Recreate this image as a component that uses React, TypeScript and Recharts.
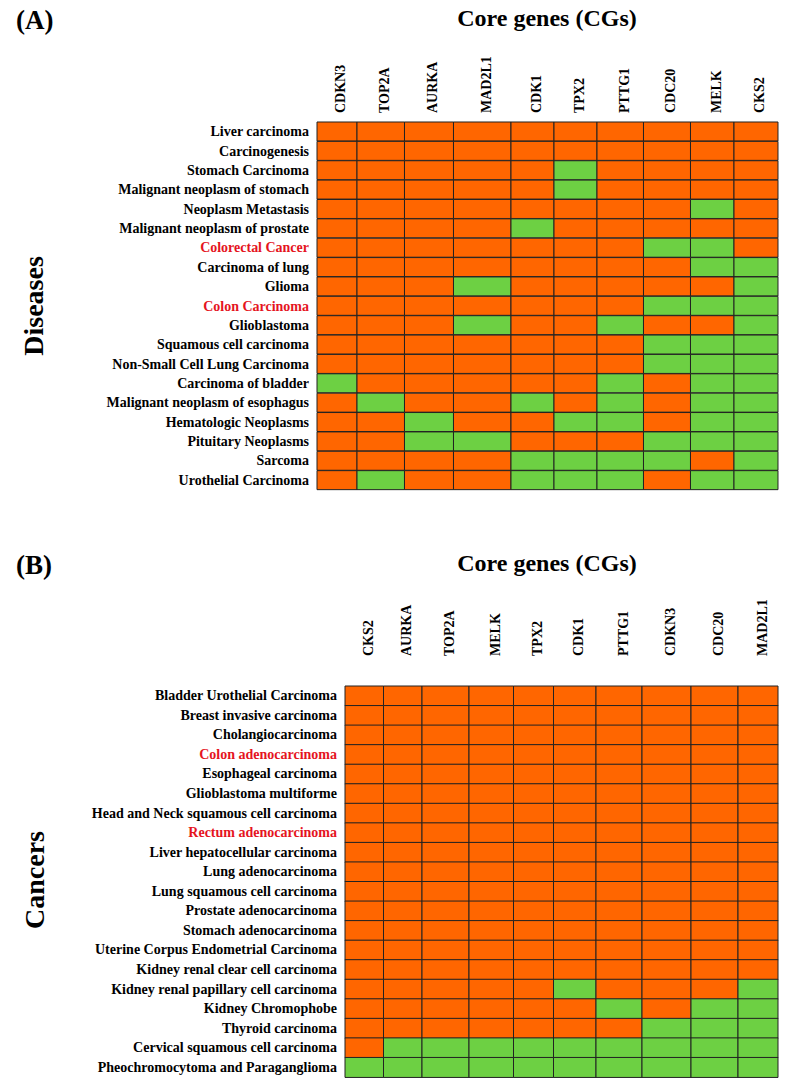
import React from "react";
import { BarChart, Bar, Cell, XAxis, YAxis } from "recharts";

// panel A: diseases x core genes (1 = green cell, 0 = orange cell)
const genesA = ["CDKN3", "TOP2A", "AURKA", "MAD2L1", "CDK1", "TPX2", "PTTG1", "CDC20", "MELK", "CKS2"];
const diseases = [
  "Liver carcinoma",
  "Carcinogenesis",
  "Stomach Carcinoma",
  "Malignant neoplasm of stomach",
  "Neoplasm Metastasis",
  "Malignant neoplasm of prostate",
  "Colorectal Cancer",
  "Carcinoma of lung",
  "Glioma",
  "Colon Carcinoma",
  "Glioblastoma",
  "Squamous cell carcinoma",
  "Non-Small Cell Lung Carcinoma",
  "Carcinoma of bladder",
  "Malignant neoplasm of esophagus",
  "Hematologic Neoplasms",
  "Pituitary Neoplasms",
  "Sarcoma",
  "Urothelial Carcinoma",
];
const statusA = [
  [0, 0, 0, 0, 0, 0, 0, 0, 0, 0],
  [0, 0, 0, 0, 0, 0, 0, 0, 0, 0],
  [0, 0, 0, 0, 0, 1, 0, 0, 0, 0],
  [0, 0, 0, 0, 0, 1, 0, 0, 0, 0],
  [0, 0, 0, 0, 0, 0, 0, 0, 1, 0],
  [0, 0, 0, 0, 1, 0, 0, 0, 0, 0],
  [0, 0, 0, 0, 0, 0, 0, 1, 1, 0],
  [0, 0, 0, 0, 0, 0, 0, 0, 1, 1],
  [0, 0, 0, 1, 0, 0, 0, 0, 0, 1],
  [0, 0, 0, 0, 0, 0, 0, 1, 1, 1],
  [0, 0, 0, 1, 0, 0, 1, 0, 0, 1],
  [0, 0, 0, 0, 0, 0, 0, 1, 1, 1],
  [0, 0, 0, 0, 0, 0, 0, 1, 1, 1],
  [1, 0, 0, 0, 0, 0, 1, 0, 1, 1],
  [0, 1, 0, 0, 1, 0, 1, 0, 1, 1],
  [0, 0, 1, 0, 0, 1, 1, 0, 1, 1],
  [0, 0, 1, 1, 0, 0, 0, 1, 1, 1],
  [0, 0, 0, 0, 1, 1, 1, 1, 0, 1],
  [0, 1, 0, 0, 1, 1, 1, 0, 1, 1],
];
const highlightA = ["Colorectal Cancer", "Colon Carcinoma"];

// panel B: TCGA cancers x core genes
const genesB = ["CKS2", "AURKA", "TOP2A", "MELK", "TPX2", "CDK1", "PTTG1", "CDKN3", "CDC20", "MAD2L1"];
const cancers = [
  "Bladder Urothelial Carcinoma",
  "Breast invasive carcinoma",
  "Cholangiocarcinoma",
  "Colon adenocarcinoma",
  "Esophageal carcinoma",
  "Glioblastoma multiforme",
  "Head and Neck squamous cell carcinoma",
  "Rectum adenocarcinoma",
  "Liver hepatocellular carcinoma",
  "Lung adenocarcinoma",
  "Lung squamous cell carcinoma",
  "Prostate adenocarcinoma",
  "Stomach adenocarcinoma",
  "Uterine Corpus Endometrial Carcinoma",
  "Kidney renal clear cell carcinoma",
  "Kidney renal papillary cell carcinoma",
  "Kidney Chromophobe",
  "Thyroid carcinoma",
  "Cervical squamous cell carcinoma",
  "Pheochromocytoma and Paraganglioma",
];
const statusB = [
  [0, 0, 0, 0, 0, 0, 0, 0, 0, 0],
  [0, 0, 0, 0, 0, 0, 0, 0, 0, 0],
  [0, 0, 0, 0, 0, 0, 0, 0, 0, 0],
  [0, 0, 0, 0, 0, 0, 0, 0, 0, 0],
  [0, 0, 0, 0, 0, 0, 0, 0, 0, 0],
  [0, 0, 0, 0, 0, 0, 0, 0, 0, 0],
  [0, 0, 0, 0, 0, 0, 0, 0, 0, 0],
  [0, 0, 0, 0, 0, 0, 0, 0, 0, 0],
  [0, 0, 0, 0, 0, 0, 0, 0, 0, 0],
  [0, 0, 0, 0, 0, 0, 0, 0, 0, 0],
  [0, 0, 0, 0, 0, 0, 0, 0, 0, 0],
  [0, 0, 0, 0, 0, 0, 0, 0, 0, 0],
  [0, 0, 0, 0, 0, 0, 0, 0, 0, 0],
  [0, 0, 0, 0, 0, 0, 0, 0, 0, 0],
  [0, 0, 0, 0, 0, 0, 0, 0, 0, 0],
  [0, 0, 0, 0, 0, 1, 0, 0, 0, 1],
  [0, 0, 0, 0, 0, 0, 1, 0, 1, 1],
  [0, 0, 0, 0, 0, 0, 0, 1, 1, 1],
  [0, 1, 1, 1, 1, 1, 1, 1, 1, 1],
  [1, 1, 1, 1, 1, 1, 1, 1, 1, 1],
];
const highlightB = ["Colon adenocarcinoma", "Rectum adenocarcinoma"];

// column widths (px) - the original figure has uneven columns
const colWidthsA = [40, 47.5, 49, 57.5, 43, 43, 46.5, 47, 43.5, 44];
const colWidthsB = [38.5, 38.5, 47, 44.5, 40, 42.5, 46, 49, 47, 40];

const ORANGE = "#ff6600";
const GREEN = "#6dd043";
const RED = "#e5141e";
const FONT = '"Liberation Serif", "Times New Roman", serif';

interface PanelProps {
  genes: string[];
  rows: string[];
  status: number[][];
  highlight: string[];
  widths: number[];
  left: number;
  top: number;
  headerBottom: number;
  rowHeight: number;
}

function HeatPanel({ genes, rows, status, highlight, widths, left, top, headerBottom, rowHeight }: PanelProps) {
  const total = widths.reduce((a, b) => a + b, 0);
  const centers: number[] = [];
  let acc = 0;
  widths.forEach((w) => {
    centers.push(acc + w / 2);
    acc += w;
  });

  const data = rows.map((name) => {
    const row: Record<string, number | string> = { name };
    genes.forEach((g, j) => (row[g] = widths[j]));
    return row;
  });

  const yAxisW = 300;
  const topAxisH = 100;
  const marginTop = top - topAxisH;
  const plotH = rowHeight * rows.length;
  const height = top + plotH + 10;

  const GeneTick = (props: any) => {
    const { x, index } = props;
    const tx = x + 4;
    return (
      <text
        x={tx}
        y={headerBottom}
        transform={`rotate(-90, ${tx}, ${headerBottom})`}
        textAnchor="start"
        dominantBaseline="central"
        fontFamily={FONT}
        fontWeight="bold"
        fontSize={14}
        fill="#000"
      >
        {genes[index]}
      </text>
    );
  };

  const RowTick = (props: any) => {
    const { x, y, payload } = props;
    const red = highlight.includes(payload.value);
    return (
      <text
        x={x}
        y={y}
        textAnchor="end"
        dominantBaseline="central"
        fontFamily={FONT}
        fontWeight="bold"
        fontSize={14}
        fill={red ? RED : "#000"}
      >
        {payload.value}
      </text>
    );
  };

  return (
    <BarChart
      width={794}
      height={height}
      data={data}
      layout="vertical"
      barCategoryGap={0}
      margin={{ top: marginTop, right: 794 - (left + total), bottom: 10, left: left - yAxisW }}
    >
      <XAxis
        type="number"
        orientation="top"
        domain={[0, total]}
        ticks={centers}
        interval={0}
        height={topAxisH}
        axisLine={false}
        tickLine={false}
        tick={<GeneTick />}
      />
      <YAxis
        type="category"
        dataKey="name"
        width={yAxisW}
        interval={0}
        axisLine={false}
        tickLine={false}
        tick={<RowTick />}
      />
      {genes.map((g, j) => (
        <Bar key={g} dataKey={g} stackId="cells" stroke="#222" strokeWidth={1} isAnimationActive={false}>
          {rows.map((r, i) => (
            <Cell key={r} fill={status[i][j] ? GREEN : ORANGE} />
          ))}
        </Bar>
      ))}
    </BarChart>
  );
}

export default function App() {
  const textStyle = { fontFamily: FONT, fontWeight: "bold" as const };
  return (
    <div style={{ position: "absolute", left: 0, top: 0, width: 794, height: 1092, background: "#fff" }}>
      <svg width={794} height={1092} style={{ position: "absolute", left: 0, top: 0 }}>
        <text x={16} y={29} fontSize={27} style={textStyle}>(A)</text>
        <text x={547} y={26} fontSize={24} textAnchor="middle" style={textStyle}>Core genes (CGs)</text>
        <text x={43} y={306} fontSize={28} textAnchor="middle" transform="rotate(-90, 43, 306)" style={textStyle}>
          Diseases
        </text>
        <text x={16} y={574} fontSize={27} style={textStyle}>(B)</text>
        <text x={547} y={571} fontSize={24} textAnchor="middle" style={textStyle}>Core genes (CGs)</text>
        <text x={44} y={880} fontSize={28} textAnchor="middle" transform="rotate(-90, 44, 880)" style={textStyle}>
          Cancers
        </text>
      </svg>
      <div style={{ position: "absolute", left: 0, top: 0 }}>
        <HeatPanel
          genes={genesA}
          rows={diseases}
          status={statusA}
          highlight={highlightA}
          widths={colWidthsA}
          left={317}
          top={122}
          headerBottom={113}
          rowHeight={19.37}
        />
      </div>
      <div style={{ position: "absolute", left: 0, top: 560 }}>
        <HeatPanel
          genes={genesB}
          rows={cancers}
          status={statusB}
          highlight={highlightB}
          widths={colWidthsB}
          left={345}
          top={126}
          headerBottom={96}
          rowHeight={19.55}
        />
      </div>
    </div>
  );
}
